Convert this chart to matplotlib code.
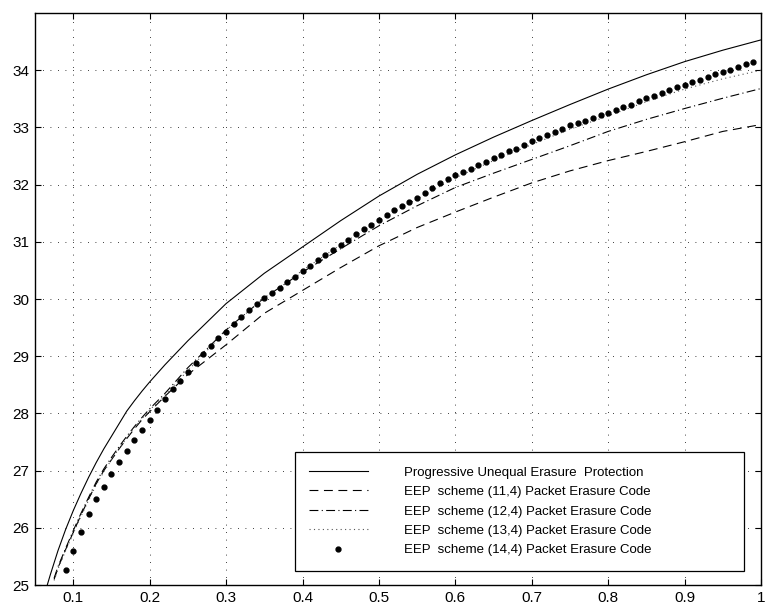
import matplotlib
matplotlib.use("Agg")
import matplotlib.pyplot as plt

plt.rcParams['font.family'] = ['Liberation Sans', 'DejaVu Sans']

# progressive unequal erasure protection
x_puep = [0.066, 0.07, 0.08, 0.09, 0.10, 0.11, 0.12, 0.13, 0.14, 0.15, 0.16, 0.17,
          0.18, 0.19, 0.20, 0.22, 0.25, 0.30, 0.35, 0.40, 0.45, 0.50, 0.55, 0.60,
          0.65, 0.70, 0.75, 0.80, 0.85, 0.90, 0.95, 1.00]
y_puep = [25.00, 25.18, 25.60, 25.97, 26.30, 26.60, 26.88, 27.14, 27.38, 27.60, 27.82, 28.04,
          28.22, 28.39, 28.55, 28.85, 29.27, 29.92, 30.45, 30.91, 31.37, 31.80, 32.18, 32.52,
          32.83, 33.12, 33.40, 33.67, 33.92, 34.15, 34.35, 34.53]

# EEP schemes drawn as lines share one x grid
x_eep = [0.075, 0.08, 0.09, 0.10, 0.11, 0.12, 0.13, 0.14, 0.15, 0.16, 0.17, 0.18,
         0.19, 0.20, 0.22, 0.25, 0.30, 0.35, 0.40, 0.45, 0.50, 0.55, 0.60, 0.65,
         0.70, 0.75, 0.80, 0.85, 0.90, 0.95, 1.00]
y_eep11 = [25.10, 25.30, 25.62, 25.92, 26.22, 26.50, 26.77, 27.00, 27.19, 27.38, 27.56, 27.73,
           27.89, 28.03, 28.30, 28.68, 29.20, 29.75, 30.15, 30.55, 30.93, 31.25, 31.52, 31.78,
           32.03, 32.24, 32.42, 32.58, 32.75, 32.93, 33.05]
y_eep12 = [25.12, 25.32, 25.64, 25.95, 26.25, 26.53, 26.80, 27.03, 27.23, 27.42, 27.60, 27.77,
           27.93, 28.08, 28.35, 28.80, 29.46, 30.02, 30.47, 30.88, 31.28, 31.63, 31.95, 32.20,
           32.44, 32.68, 32.93, 33.14, 33.33, 33.51, 33.68]
y_eep13 = [25.08, 25.28, 25.60, 25.90, 26.20, 26.48, 26.75, 26.98, 27.19, 27.39, 27.57, 27.75,
           27.91, 28.06, 28.32, 28.75, 29.45, 30.02, 30.50, 30.95, 31.37, 31.75, 32.12, 32.42,
           32.70, 32.97, 33.20, 33.45, 33.67, 33.85, 34.00]

# (14,4) scheme plotted as dots
x_eep14 = [0.09, 0.10, 0.11, 0.12, 0.13, 0.14, 0.15, 0.16, 0.17, 0.18, 0.19, 0.20,
           0.21, 0.22, 0.23, 0.24, 0.25, 0.26, 0.27, 0.28, 0.29, 0.30, 0.31, 0.32,
           0.33, 0.34, 0.35, 0.36, 0.37, 0.38, 0.39, 0.40, 0.41, 0.42, 0.43, 0.44,
           0.45, 0.46, 0.47, 0.48, 0.49, 0.50, 0.51, 0.52, 0.53, 0.54, 0.55, 0.56,
           0.57, 0.58, 0.59, 0.60, 0.61, 0.62, 0.63, 0.64, 0.65, 0.66, 0.67, 0.68,
           0.69, 0.70, 0.71, 0.72, 0.73, 0.74, 0.75, 0.76, 0.77, 0.78, 0.79, 0.80,
           0.81, 0.82, 0.83, 0.84, 0.85, 0.86, 0.87, 0.88, 0.89, 0.90, 0.91, 0.92,
           0.93, 0.94, 0.95, 0.96, 0.97, 0.98, 0.99]
y_eep14 = [25.26, 25.60, 25.93, 26.25, 26.50, 26.72, 26.94, 27.15, 27.34, 27.53, 27.71, 27.89,
           28.06, 28.25, 28.43, 28.57, 28.72, 28.89, 29.04, 29.18, 29.31, 29.43, 29.56, 29.68,
           29.80, 29.91, 30.01, 30.10, 30.20, 30.30, 30.39, 30.49, 30.58, 30.69, 30.77, 30.86,
           30.94, 31.04, 31.13, 31.22, 31.30, 31.38, 31.47, 31.55, 31.63, 31.69, 31.77, 31.85,
           31.94, 32.02, 32.09, 32.16, 32.22, 32.28, 32.34, 32.40, 32.46, 32.52, 32.58, 32.63,
           32.69, 32.76, 32.81, 32.87, 32.92, 32.98, 33.04, 33.08, 33.12, 33.17, 33.21, 33.26,
           33.31, 33.36, 33.40, 33.46, 33.51, 33.55, 33.61, 33.65, 33.70, 33.75, 33.79, 33.83,
           33.88, 33.93, 33.97, 34.01, 34.06, 34.10, 34.14]

labels = ["Progressive Unequal Erasure  Protection",
          "EEP  scheme (11,4) Packet Erasure Code",
          "EEP  scheme (12,4) Packet Erasure Code",
          "EEP  scheme (13,4) Packet Erasure Code",
          "EEP  scheme (14,4) Packet Erasure Code"]
x_ticks = [0.1, 0.2, 0.3, 0.4, 0.5, 0.6, 0.7, 0.8, 0.9, 1.0]
x_ticklabels = ["0.1", "0.2", "0.3", "0.4", "0.5", "0.6", "0.7", "0.8", "0.9", "1"]
y_ticks = [25, 26, 27, 28, 29, 30, 31, 32, 33, 34]

fig = plt.figure(figsize=(7.65, 6.08), dpi=100)
ax = fig.add_axes([0.0458, 0.0378, 0.9490, 0.9408])

lw = 0.8
ax.plot(x_puep, y_puep, color="black", lw=lw, label=labels[0])
ax.plot(x_eep, y_eep11, color="black", lw=lw, dashes=(8, 5), label=labels[1])
ax.plot(x_eep, y_eep12, color="black", lw=lw, dashes=(8, 3, 1, 3), label=labels[2])
ax.plot(x_eep, y_eep13, color="#555555", lw=lw, dashes=(1, 3), label=labels[3])
ax.plot(x_eep14, y_eep14, color="black", linestyle="none", marker="o",
        markersize=3.5, label=labels[4])

ax.set_xlim(0.05, 1.0)
ax.set_ylim(25, 35)
ax.set_xticks(x_ticks)
ax.set_xticklabels(x_ticklabels)
ax.set_yticks(y_ticks)
ax.tick_params(direction="in", length=4, width=0.8, top=True, right=True,
               labelsize=11, pad=4)
for s in ax.spines.values():
    s.set_linewidth(1.0)
ax.grid(True, color="black", linestyle=(0, (1, 8)), linewidth=0.6)

leg = ax.legend(loc="lower left", bbox_to_anchor=(0.358, 0.0245, 0.618, 0.2),
                mode="expand", borderaxespad=0, fancybox=False, framealpha=1,
                edgecolor="black", fontsize=9.5, handlelength=4.4,
                handletextpad=2.8, labelspacing=0.55, borderpad=1.1, numpoints=1)
leg.get_frame().set_linewidth(0.9)

fig.savefig("out.png", dpi=100)
